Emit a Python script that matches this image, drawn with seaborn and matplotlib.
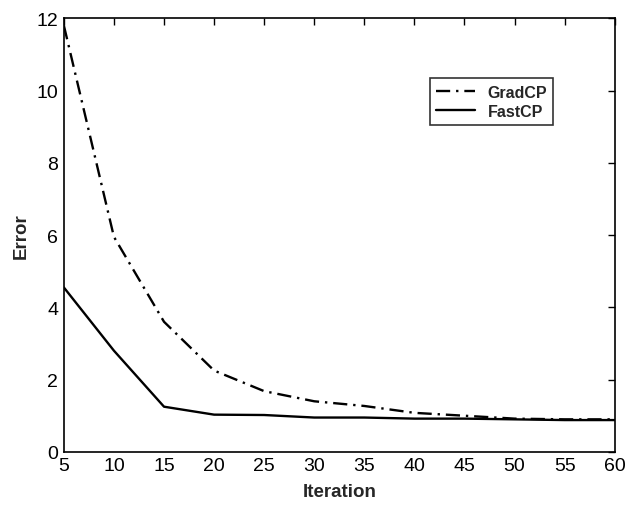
import matplotlib
matplotlib.use("Agg")
import matplotlib.pyplot as plt
import seaborn as sns
import pandas as pd

iterations = [5, 10, 15, 20, 25, 30, 35, 40, 45, 50, 55, 60]
gradcp = [11.8, 5.95, 3.6, 2.25, 1.68, 1.4, 1.27, 1.08, 1.0, 0.92, 0.9, 0.9]
fastcp = [4.55, 2.8, 1.25, 1.03, 1.02, 0.95, 0.95, 0.92, 0.92, 0.9, 0.88, 0.88]

sns.set_style("white")
plt.rcParams['font.family'] = ['Liberation Sans', 'DejaVu Sans']

df = pd.DataFrame({'Iteration': iterations * 2,
                   'Error': gradcp + fastcp,
                   'method': ['GradCP'] * len(iterations) + ['FastCP'] * len(iterations)})

fig = plt.figure(figsize=(6.26, 5.06), dpi=100)
ax = fig.add_axes([0.102, 0.105, 0.880, 0.857])

sns.lineplot(data=df, x='Iteration', y='Error', hue='method', style='method',
             palette={'GradCP': 'black', 'FastCP': 'black'},
             dashes={'GradCP': (6, 2.5, 1, 2.5), 'FastCP': ''},
             linewidth=1.7, ax=ax)

ax.set_xlim(5, 60)
ax.set_ylim(0, 12)
ax.set_xticks(range(5, 61, 5))
ax.set_yticks(range(0, 13, 2))
ax.tick_params(direction='in', top=True, right=True, length=5, width=1,
               labelsize=14, colors='black', pad=4)
for s in ax.spines.values():
    s.set_visible(True)
    s.set_color('black')
    s.set_linewidth(1.2)
ax.set_xlabel('Iteration', fontsize=13.5, fontweight='bold', labelpad=6)
ax.set_ylabel('Error', fontsize=13.5, fontweight='bold', labelpad=5)

leg = ax.legend(loc='upper left', bbox_to_anchor=(0.65, 0.88), fontsize=11.5,
                frameon=True, fancybox=False, edgecolor='black',
                handlelength=2.4, borderpad=0.4, labelspacing=0.25)
leg.get_frame().set_linewidth(1.2)
for t in leg.get_texts():
    t.set_fontweight('bold')

fig.savefig('out.png', dpi=100)
